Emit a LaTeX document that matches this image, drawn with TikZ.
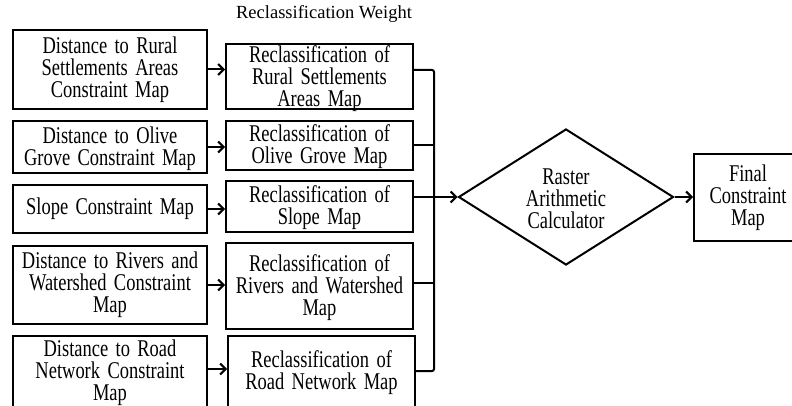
\documentclass[tikz,border=0pt]{standalone}
\usepackage{fontspec}
\setmainfont{Liberation Serif}
\newfontfamily\boxfont[FakeStretch=0.77,WordSpace=1.6]{Liberation Serif}
\usetikzlibrary{shapes.geometric,arrows.meta}
\begin{document}
\begin{tikzpicture}[x=1pt,y=-1pt,
  box/.style={draw,line width=2pt,inner sep=0pt},
  txt/.style={align=center,inner sep=0pt,font=\boxfont\fontsize{24}{22}\selectfont},
  conn/.style={line width=2pt},
  arr/.style={line width=2pt,-{Straight Barb[length=5.5pt,width=11pt]}}]
\useasboundingbox (0,0) rectangle (792,406);
\clip (0,0) rectangle (792,406);
% title
\node[font=\fontsize{18.5}{22}\selectfont,inner sep=0pt] (title) at (324,14) {Reclassification Weight};
% left boxes
\node[box,minimum width=194pt,minimum height=79pt] (l1) at (110,69.5) {};
\node[box,minimum width=194pt,minimum height=52pt] (l2) at (110,147) {};
\node[box,minimum width=194pt,minimum height=48pt] (l3) at (110,209) {};
\node[box,minimum width=194pt,minimum height=78pt] (l4) at (110,285) {};
\node[box,minimum width=194pt,minimum height=74pt] (l5) at (110,373) {};
\node[txt] (t1) at (l1) {Distance to Rural\\Settlements Areas\\Constraint Map};
\node[txt] (t2) at (110,149) {Distance to Olive\\Grove Constraint Map};
\node[txt] (t3) at (l3) {Slope Constraint Map};
\node[txt] (t4) at (l4) {Distance to Rivers and\\Watershed Constraint\\Map};
\node[txt] (t5) at (l5) {Distance to Road\\Network Constraint\\Map};
% middle boxes
\node[box,minimum width=187pt,minimum height=65pt] (m1) at (319.5,76.5) {};
\node[box,minimum width=187pt,minimum height=49pt] (m2) at (319.5,145.5) {};
\node[box,minimum width=187pt,minimum height=51pt] (m3) at (319.5,206.5) {};
\node[box,minimum width=187pt,minimum height=86pt] (m4) at (319.5,286) {};
\node[box,minimum width=187pt,minimum height=74pt] (m5) at (321.5,373) {};
\node[txt] (u1) at (319.5,79) {Reclassification of\\Rural Settlements\\Areas Map};
\node[txt] (u2) at (319.5,147) {Reclassification of\\Olive Grove Map};
\node[txt] (u3) at (319.5,208) {Reclassification of\\Slope Map};
\node[txt] (u4) at (319.5,288) {Reclassification of\\Rivers and Watershed\\Map};
\node[txt] (u5) at (m5) {Reclassification of\\Road Network Map};
% diamond and final
\node[box,diamond,aspect=1.58,minimum width=215pt,minimum height=136pt] (calc) at (566,197) {};
\node[txt] (ct) at (566,199) {Raster\\Arithmetic\\Calculator};
\node[box,minimum width=108pt,minimum height=87pt] (fin) at (748,197.5) {};
\node[txt] (ft) at (fin) {Final\\Constraint\\Map};
% arrows left -> middle
\draw[arr] (l1.east) -- (l1.east -| m1.west);
\draw[arr] (l2.east) -- (l2.east -| m2.west);
\draw[arr] (l3.east) -- (l3.east -| m3.west);
\draw[arr] (l4.east) -- (l4.east -| m4.west);
\coordinate (a5) at ([yshift=4pt]l5.east);
\draw[arr] (a5) -- (a5 -| m5.west);
% bus
\coordinate (bx) at (434,0);
\coordinate (o1) at ([yshift=6.5pt]m1.east);
\coordinate (o2) at (m2.east);
\coordinate (o3) at ([yshift=9.5pt]m3.east);
\coordinate (o4) at ([yshift=3pt]m4.east);
\coordinate (o5) at ([yshift=2pt]m5.east);
\draw[conn,rounded corners=2pt] (o1) -- (o1 -| bx) -- (o5 -| bx) -- (o5);
\draw[conn] (o2) -- (o2 -| bx);
\draw[conn] (o4) -- (o4 -| bx);
\draw[arr] (o3) -- (calc.west);
\draw[arr] (calc.east) -- (calc.east -| fin.west);
\end{tikzpicture}
\end{document}
